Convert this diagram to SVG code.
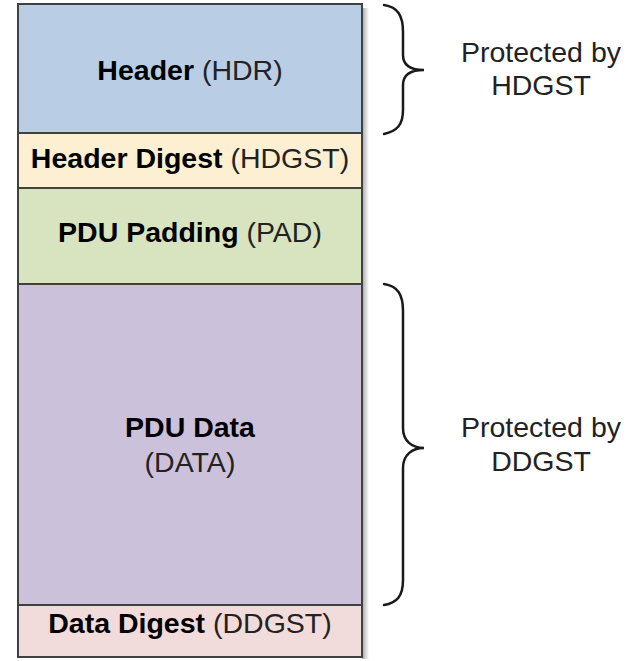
<svg xmlns="http://www.w3.org/2000/svg" width="634" height="661" viewBox="0 0 634 661">
<style>
.seg{stroke:#404040;stroke-width:2}
.t{font-family:"Liberation Sans",Arial,sans-serif;font-size:28.5px;text-anchor:middle;fill:#222}
.b{font-weight:bold;fill:#000}
.brace{fill:none;stroke:#1a1a1a;stroke-width:2.5;stroke-linecap:round}
</style>
<defs>
<linearGradient id="sh" x1="0" y1="0" x2="1" y2="0">
<stop offset="0" stop-color="#808080" stop-opacity="0.7"/>
<stop offset="1" stop-color="#808080" stop-opacity="0"/>
</linearGradient>
</defs>
<rect x="362" y="8" width="7" height="651" fill="url(#sh)"/>
<g id="hdr"><rect class="seg" x="18" y="4" width="344" height="129" fill="#b9cde5"/>
<text class="t" x="190" y="80"><tspan class="b">Header</tspan> (HDR)</text></g>
<g id="hdgst"><rect class="seg" x="18" y="133" width="344" height="55" fill="#fdefd1"/>
<text class="t" x="190" y="168"><tspan class="b">Header Digest</tspan> (HDGST)</text></g>
<g id="pad"><rect class="seg" x="18" y="188" width="344" height="96" fill="#d8e4bf"/>
<text class="t" x="190" y="242"><tspan class="b">PDU Padding</tspan> (PAD)</text></g>
<g id="data"><rect class="seg" x="18" y="284" width="344" height="321" fill="#ccc1da"/>
<text class="t" x="190" y="437"><tspan class="b">PDU Data</tspan></text>
<text class="t" x="190" y="472">(DATA)</text></g>
<g id="ddgst"><rect class="seg" x="18" y="605" width="344" height="52" fill="#f2dcdb"/>
<text class="t" x="190" y="633"><tspan class="b">Data Digest</tspan> (DDGST)</text></g>
<g id="brace-hdgst">
<path class="brace" d="M384,5 C398,7 403,16 403,32 L403,55 C403,66 412,70 424,70 C412,70 403,74 403,85 L403,110 C403,125 397,131 384,134"/>
<text class="t" x="541" y="62">Protected by</text>
<text class="t" x="541" y="95">HDGST</text></g>
<g id="brace-ddgst">
<path class="brace" d="M384,284 C398,286 403,295 403,311 L403,428 C403,441 412,448 424,448 C412,448 403,455 403,468 L403,580 C403,596 397,603 384,605"/>
<text class="t" x="541" y="437">Protected by</text>
<text class="t" x="541" y="471">DDGST</text></g>
<g id="connectors"/>
</svg>
